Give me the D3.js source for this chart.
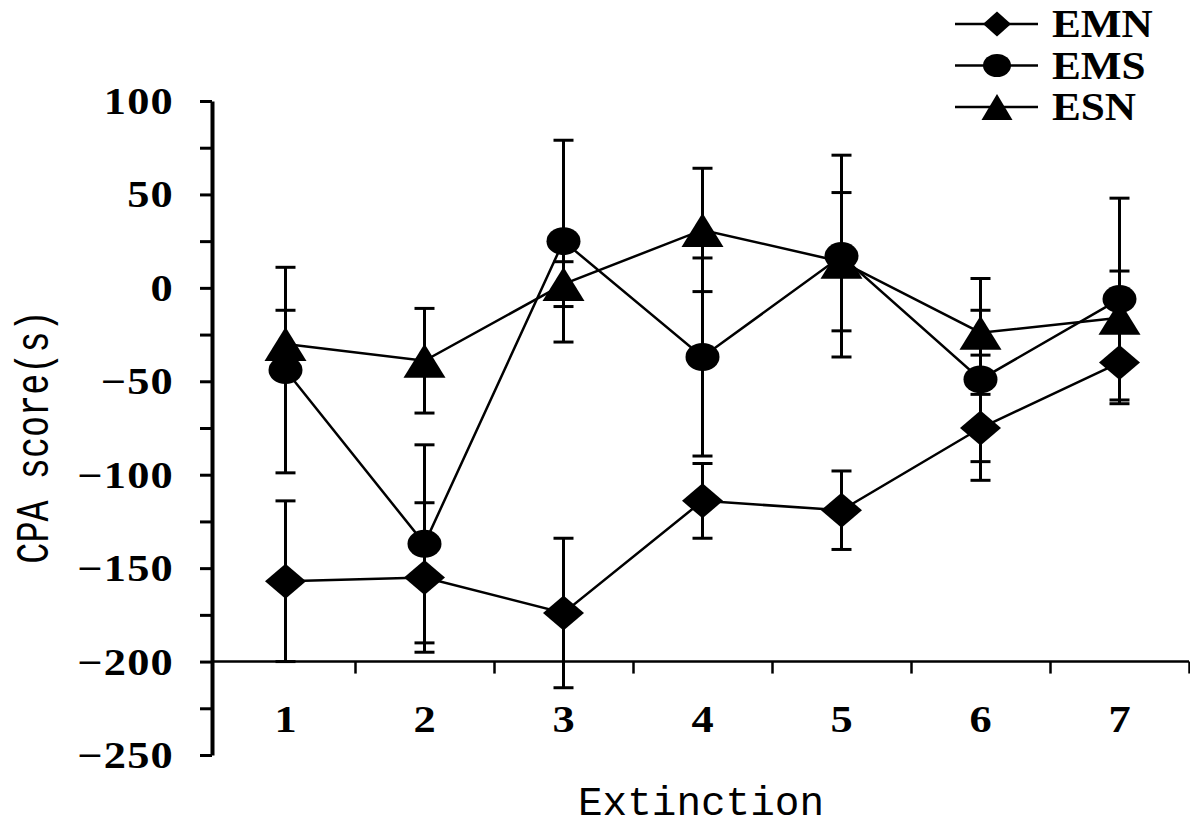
<!DOCTYPE html>
<html>
<head>
 <meta charset="utf-8">
 <title>CPA score during extinction</title>
 <script src="https://d3js.org/d3.v7.min.js"></script>
 <style>
   html, body { margin: 0; padding: 0; background: #fff; }
   svg { display: block; }
 </style>
</head>
<body>
 <svg id="chart" width="1190" height="829"></svg>
 <script>
   // extinction sessions
   let sessions = [1, 2, 3, 4, 5, 6, 7];

   // group means and SEM (s)
   let emnMean = [-157, -155, -174, -114, -119, -75, -40];
   let emnErr  = [43, 40, 40, 20, 21, 18, 22];
   let emsMean = [-44, -137, 25, -37, 17, -49, -6];
   let emsErr  = [55, 53, 54, 53, 54, 54, 54];
   let esnMean = [-30, -39, 2, 31, 14, -24, -16];
   let esnErr  = [18, 28, 12, 33, 37, 12, 25];

   let groupNames = ['EMN', 'EMS', 'ESN'];
   let yTickLabels = [100, 50, 0, -50, -100, -150, -200, -250];

   let groups = [
     { name: groupNames[0], mean: emnMean, err: emnErr, shape: 'diamond' },
     { name: groupNames[1], mean: emsMean, err: emsErr, shape: 'circle' },
     { name: groupNames[2], mean: esnMean, err: esnErr, shape: 'triangle' }
   ];

   let svg = d3.select('#chart');
   let axisX = 212;

   let x = d3.scaleLinear().domain([0.5, 7.5]).range([216, 1189]);
   let y = d3.scaleLinear().domain([-250, 100]).range([755, 101]);

   // marker path: w/h in pixels
   function markerPath(shape, w, h) {
     if (shape === 'diamond') {
       return `M0,${-h / 2}L${w / 2},0L0,${h / 2}L${-w / 2},0Z`;
     }
     if (shape === 'triangle') {
       return `M0,${-h / 2}L${w / 2},${h / 2}L${-w / 2},${h / 2}Z`;
     }
     // ellipse
     let rx = w / 2, ry = h / 2;
     return `M${-rx},0A${rx},${ry} 0 1,0 ${rx},0A${rx},${ry} 0 1,0 ${-rx},0Z`;
   }

   // y axis, ticks every 25 pointing outwards
   let yAxis = svg.append('g')
     .attr('transform', `translate(${axisX},0)`)
     .call(d3.axisLeft(y).tickValues(d3.range(-250, 101, 25)).tickSize(12).tickSizeOuter(0).tickFormat(''));
   yAxis.select('.domain').attr('stroke', '#000').attr('stroke-width', 4);
   yAxis.selectAll('.tick line').attr('stroke', '#000').attr('stroke-width', 3);

   // y tick labels (slightly stretched like the original)
   svg.append('g').selectAll('g')
     .data(yTickLabels)
     .enter()
     .append('g')
     .attr('transform', d => `translate(174,${y(d)}) scale(1.2,1)`)
     .append('text')
     .text(d => d < 0 ? '\u2212' + Math.abs(d) : d)
     .attr('text-anchor', 'end')
     .attr('dy', '0.35em')
     .attr('font-family', 'Liberation Serif')
     .attr('font-weight', 'bold')
     .attr('font-size', 37)
     .attr('letter-spacing', 1);

   // x axis sits on -200, ticks between sessions
   let xAxis = svg.append('g')
     .attr('transform', `translate(0,${y(-200)})`)
     .call(d3.axisBottom(x).tickValues(d3.range(1.5, 7.6, 1)).tickSize(12).tickSizeOuter(0).tickFormat(''));
   xAxis.select('.domain').attr('d', `M${axisX},0H${x.range()[1]}`).attr('stroke', '#000').attr('stroke-width', 2.5);
   xAxis.selectAll('.tick line').attr('stroke', '#000').attr('stroke-width', 2.5);

   svg.append('g').selectAll('g')
     .data(sessions)
     .enter()
     .append('g')
     .attr('transform', d => `translate(${x(d)},732) scale(1.2,1)`)
     .append('text')
     .text(d => d)
     .attr('text-anchor', 'middle')
     .attr('font-family', 'Liberation Serif')
     .attr('font-weight', 'bold')
     .attr('font-size', 37);

   // axis titles
   svg.append('text')
     .text('Extinction')
     .attr('x', 701)
     .attr('y', 815)
     .attr('text-anchor', 'middle')
     .attr('font-family', 'Liberation Mono')
     .attr('font-size', 41);

   svg.append('text')
     .text('CPA score(s)')
     .attr('transform', 'translate(48,437) rotate(-90) scale(0.8,1.07)')
     .attr('text-anchor', 'middle')
     .attr('font-family', 'Liberation Mono')
     .attr('font-size', 44);

   // connecting lines
   let line = d3.line()
     .x((d, i) => x(sessions[i]))
     .y(d => y(d));

   svg.append('g').selectAll('path')
     .data(groups)
     .enter()
     .append('path')
     .attr('d', g => line(g.mean))
     .attr('fill', 'none')
     .attr('stroke', '#000')
     .attr('stroke-width', 2.5);

   // error bars
   groups.forEach(g => {
     let bars = svg.append('g').selectAll('g')
       .data(sessions)
       .enter()
       .append('g')
       .attr('stroke', '#000')
       .attr('stroke-width', 3);
     bars.append('line')
       .attr('x1', d => x(d)).attr('x2', d => x(d))
       .attr('y1', (d, i) => y(g.mean[i] + g.err[i]))
       .attr('y2', (d, i) => y(g.mean[i] - g.err[i]));
     [1, -1].forEach(sign => {
       bars.append('line')
         .attr('x1', d => x(d) - 10).attr('x2', d => x(d) + 10)
         .attr('y1', (d, i) => y(g.mean[i] + sign * g.err[i]))
         .attr('y2', (d, i) => y(g.mean[i] + sign * g.err[i]));
     });
   });

   // markers
   let markerSize = { diamond: [41, 35], circle: [34, 28], triangle: [42, 34] };
   groups.forEach(g => {
     svg.append('g').selectAll('path')
       .data(sessions)
       .enter()
       .append('path')
       .attr('transform', (d, i) => `translate(${x(d)},${y(g.mean[i])})`)
       .attr('d', markerPath(g.shape, markerSize[g.shape][0], markerSize[g.shape][1]))
       .attr('fill', '#000');
   });

   // legend
   let legendSize = { diamond: [28, 25], circle: [28, 23], triangle: [31, 26] };
   let legend = svg.append('g').selectAll('g')
     .data(groups)
     .enter()
     .append('g')
     .attr('transform', (d, i) => `translate(955,${24 + i * 41.5})`);
   legend.append('line')
     .attr('x1', 0).attr('x2', 83)
     .attr('stroke', '#000')
     .attr('stroke-width', 2.5);
   legend.append('path')
     .attr('transform', 'translate(42,0)')
     .attr('d', d => markerPath(d.shape, legendSize[d.shape][0], legendSize[d.shape][1]))
     .attr('fill', '#000');
   legend.append('g')
     .attr('transform', 'translate(97,13) scale(1.08,1)')
     .append('text')
     .text(d => d.name)
     .attr('font-family', 'Liberation Serif')
     .attr('font-weight', 'bold')
     .attr('font-size', 40);
 </script>
</body>
</html>
